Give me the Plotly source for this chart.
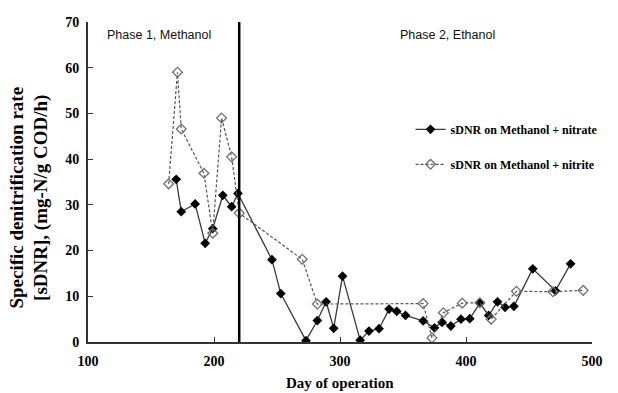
import plotly.graph_objects as go

nitrate_day = [170, 174, 185, 193, 199, 207, 214, 219, 246, 253, 273, 282, 289, 295, 302,
               316, 323, 331, 339, 345, 352, 366, 375, 381, 388, 396, 403, 411, 418, 425,
               431, 438, 453, 471, 483]
nitrate_val = [35.6, 28.5, 30.2, 21.6, 24.8, 32.1, 29.6, 32.5, 18.0, 10.6, 0.3, 4.7, 8.8, 3.0, 14.4,
               0.4, 2.4, 2.9, 7.2, 6.7, 5.8, 4.6, 3.1, 4.3, 3.5, 5.0, 5.1, 8.5, 5.8, 8.8,
               7.6, 7.8, 16.0, 11.2, 17.1]

nitrite_day = [164, 171, 174, 192, 199, 206, 214, 220, 270, 282, 366, 373, 382, 397, 411,
               420, 440, 469, 493]
nitrite_val = [34.6, 59.0, 46.6, 36.9, 23.8, 49.0, 40.5, 28.2, 18.1, 8.3, 8.4, 0.9, 6.4, 8.5, 8.6,
               5.0, 11.1, 11.0, 11.3]

phase_switch_day = 220
x_ticks = [100, 200, 300, 400, 500]
y_ticks = [0, 10, 20, 30, 40, 50, 60, 70]
names = ["sDNR on Methanol + nitrate", "sDNR on Methanol + nitrite"]

serif = "Liberation Serif"
sans = "Liberation Sans"

fig = go.Figure()
fig.add_trace(go.Scatter(
    x=nitrate_day, y=nitrate_val, name="<b>" + names[0] + "</b>", mode="lines+markers",
    legendgroup="a",
    line=dict(color="#3a3a3a", width=1.3),
    marker=dict(symbol="diamond", size=7.5, color="black"),
))
fig.add_trace(go.Scatter(
    x=nitrite_day, y=nitrite_val, name="<b>" + names[1] + "</b>", mode="lines+markers",
    legendgroup="b",
    line=dict(color="#555555", width=1.2, dash="3px,2px"),
    marker=dict(symbol="diamond-open", size=7.5, color="#707070", line=dict(width=1.3)),
))

fig.add_shape(type="line", x0=phase_switch_day, x1=phase_switch_day, y0=0, y1=70,
              xref="x", yref="y", line=dict(color="black", width=2.5))

fig.add_annotation(text="Phase 1, Methanol", x=0.034, y=0.96, xref="paper", yref="paper",
                   xanchor="left", yanchor="middle", showarrow=False,
                   font=dict(family=sans, size=12.5, color="#111111"))
fig.add_annotation(text="Phase 2, Ethanol", x=0.615, y=0.96, xref="paper", yref="paper",
                   xanchor="left", yanchor="middle", showarrow=False,
                   font=dict(family=sans, size=12.5, color="#111111"))

# axis titles as annotations (placed like the original)
fig.add_annotation(text="<b>Specific denitrification rate<br>[sDNR], (mg-N/g COD/h)</b>",
                   x=-0.118, y=0.45, xref="paper", yref="paper", textangle=-90,
                   xanchor="center", yanchor="middle", showarrow=False,
                   font=dict(family=serif, size=19, color="black"))
fig.add_annotation(text="<b>Day of operation</b>",
                   x=0.5, y=-0.128, xref="paper", yref="paper",
                   xanchor="center", yanchor="middle", showarrow=False,
                   font=dict(family=serif, size=15, color="black"))

fig.update_layout(
    width=618, height=393,
    margin=dict(l=88, r=26, t=22, b=51),
    paper_bgcolor="white", plot_bgcolor="white",
    showlegend=True,
    legend=dict(x=0.64, y=0.71, xanchor="left", yanchor="top",
                bgcolor="rgba(0,0,0,0)", tracegroupgap=16,
                font=dict(family=serif, size=12, color="black"),
                itemwidth=30),
    xaxis=dict(range=[100, 500], tickvals=x_ticks,
               ticktext=["<b>%d</b>" % v for v in x_ticks],
               showgrid=False, zeroline=False, automargin=False,
               showline=True, linecolor="#333333", linewidth=2,
               ticks="inside", ticklen=5, tickcolor="#333333", ticklabelstandoff=5,
               tickfont=dict(family=serif, size=14, color="black", weight="bold")),
    yaxis=dict(range=[0, 70], tickvals=y_ticks,
               ticktext=["<b>%d</b>" % v for v in y_ticks],
               showgrid=False, zeroline=False, automargin=False,
               showline=True, linecolor="#333333", linewidth=2,
               ticks="inside", ticklen=5, tickcolor="#333333", ticklabelstandoff=4,
               tickfont=dict(family=serif, size=14, color="black", weight="bold")),
)

fig.write_html("out.html")
